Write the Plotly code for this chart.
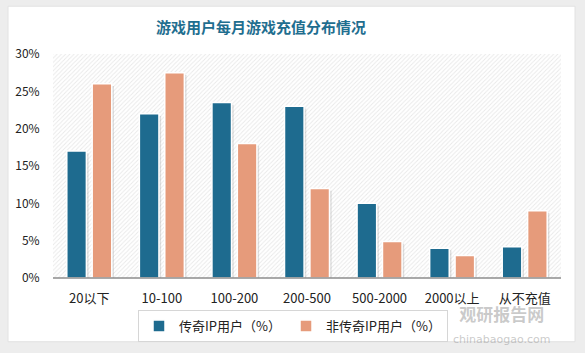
import plotly.graph_objects as go

categories = ["20以下", "10-100", "100-200", "200-500", "500-2000", "2000以上", "从不充值"]
legend_ip = [17, 22, 23.5, 23, 10, 4, 4.2]
non_legend_ip = [26, 27.5, 18, 12, 4.9, 3, 9]
series_names = ["传奇IP用户（%）", "非传奇IP用户（%）"]
y_ticks = [0, 5, 10, 15, 20, 25, 30]
y_tick_text = ["0%", "5%", "10%", "15%", "20%", "25%", "30%"]
title_text = "游戏用户每月游戏充值分布情况"

BLUE = "#1e6b8f"
ORANGE = "#e69b7b"
FONT = "Noto Sans CJK SC"

xpos = list(range(len(categories)))
W, H = 585, 353
L, R, T, B = 53, 24, 54, 74
pw, ph = W - L - R, H - T - B

def px_x(x):
    return (x - L) / pw

def px_y(y):
    return (H - B - y) / ph

fig = go.Figure()

# hatched plot-area background
fig.add_trace(go.Bar(
    x=[(len(categories) - 1) / 2], y=[y_ticks[-1]], width=[len(categories)],
    marker=dict(color="white", line=dict(width=0),
                pattern=dict(shape="/", fgcolor="#d2d2d2", bgcolor="white", size=3, solidity=0.3)),
    showlegend=False, hoverinfo="skip"))

bar_w = 0.27
offsets = [-0.31, 0.04]
for vals, off in zip([legend_ip, non_legend_ip], offsets):
    fig.add_trace(go.Bar(
        x=xpos, y=vals, base=-0.3, offset=off + 0.03, width=bar_w,
        marker=dict(color="rgba(90,90,90,0.18)", line=dict(width=0)),
        showlegend=False, hoverinfo="skip"))

for vals, off, name, col in zip([legend_ip, non_legend_ip], offsets, series_names, [BLUE, ORANGE]):
    fig.add_trace(go.Bar(
        x=xpos, y=vals, offset=off, width=bar_w, name=name,
        marker=dict(color=col, line=dict(color="white", width=1.5))))

wm_color = "rgba(150,150,150,0.5)"
watermark = ("<b>观研报告网</b><br>"
             "<span style='font-size:11px;font-family:DejaVu Sans'>chinabaogao.com</span>")

fig.update_layout(
    width=W, height=H,
    margin=dict(l=L, r=R, t=T, b=B),
    barmode="overlay",
    paper_bgcolor="#ededed",
    plot_bgcolor="white",
    font=dict(family=FONT, color="#222", size=12),
    xaxis=dict(range=[-0.5, len(categories) - 0.5], tickvals=xpos, ticktext=categories,
               showgrid=False, zeroline=False, showline=False,
               ticks="outside", ticklen=8, tickcolor="rgba(0,0,0,0)",
               tickfont=dict(size=13, color="#222")),
    yaxis=dict(range=[0, y_ticks[-1]], tickvals=y_ticks, ticktext=y_tick_text,
               showgrid=False, zeroline=False, showline=False,
               ticks="outside", ticklen=10, tickcolor="rgba(0,0,0,0)",
               tickfont=dict(size=12, color="#222")),
    legend=dict(orientation="h", x=px_x(293), y=px_y(326), xanchor="center", yanchor="middle",
                bordercolor="#d6d6d6", borderwidth=1, bgcolor="white",
                font=dict(size=13, color="#222"), traceorder="normal"),
    shapes=[
        dict(type="rect", xref="paper", yref="paper", layer="below",
             x0=px_x(8), x1=px_x(575), y0=px_y(343), y1=px_y(6),
             fillcolor="white", line=dict(color="#e2e2e2", width=1)),
        dict(type="line", xref="paper", yref="paper", x0=0, x1=1, y0=0, y1=0,
             line=dict(color="#8c8c8c", width=1.5)),
    ],
    annotations=[
        dict(text="<b>" + title_text + "</b>", xref="paper", yref="paper",
             x=px_x(261), y=px_y(26), xanchor="center", yanchor="middle", showarrow=False,
             font=dict(size=15, color="#1f6e8f", family=FONT)),
        dict(text=watermark, xref="paper", yref="paper",
             x=px_x(502), y=px_y(325), xanchor="center", yanchor="middle", showarrow=False,
             align="center", font=dict(size=17, color=wm_color, family=FONT)),
    ],
)

fig.write_html("out.html")
